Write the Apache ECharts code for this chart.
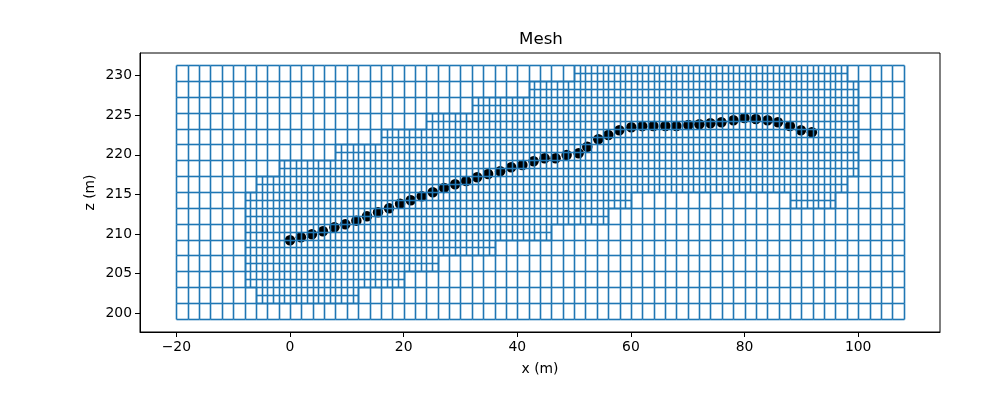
<!DOCTYPE html>
<html>
<head>
<meta charset="utf-8">
<style>html,body{margin:0;padding:0;background:#fff}#chart{width:1000px;height:400px}</style>
<script src="https://cdn.jsdelivr.net/npm/echarts@6/dist/echarts.min.js"></script>
</head>
<body>
<div id="chart"></div>
<script>
// receiver locations
var pointX = [0, 1.92, 3.86, 5.8, 7.81, 9.74, 11.68, 13.55, 15.49, 17.43, 19.37, 21.25, 23.19, 25.13, 27.12, 29.06,
    31, 32.93, 34.87, 36.99, 38.93, 40.9, 42.87, 44.81, 46.75, 48.69, 50.8, 52.32, 54.26, 56.02, 57.96, 60.07,
    62, 63.95, 66.06, 68, 70.11, 72.05, 73.99, 75.93, 78.04, 79.98, 81.99, 84.04, 85.87, 87.98, 89.92, 91.85];
var pointZ = [209.23, 209.61, 209.99, 210.37, 210.87, 211.25, 211.7, 212.26, 212.76, 213.27, 213.83, 214.27, 214.78, 215.28, 215.83, 216.29,
    216.71, 217.18, 217.59, 217.93, 218.44, 218.73, 219.19, 219.57, 219.57, 219.99, 220.2, 221.03, 221.97, 222.51, 223.1, 223.48,
    223.62, 223.64, 223.64, 223.64, 223.77, 223.86, 223.98, 224.11, 224.36, 224.65, 224.53, 224.36, 224.11, 223.64, 223.1, 222.85];

// mesh outline and cell sizes
var meshX = [-20, 108];
var meshZ = [199.25, 231.25];
var coarseSize = 2;
var fineSize = 1;

// refined x range for each coarse row, bottom row first (null = no refinement)
var fineFrom = [null, -6, -8, -8, -8, -8, -8, -8, -6, -2, 8, 16, 24, 32, 42, 50];
var fineTo = [null, 12, 20, 26, 36, 46, 56, 60, 98, 100, 100, 100, 100, 100, 100, 98];
// second refined patch in row 7
var patchRow = 7;
var patchX = [88, 96];

var xTicks = [-20, 0, 20, 40, 60, 80, 100];
var zTicks = [200, 205, 210, 215, 220, 225, 230];
var xLimits = [-26.4, 114.4];
var zLimits = [197.65, 232.85];

function isFine(row, x) {
    if (fineFrom[row] !== null && x >= fineFrom[row] && x < fineTo[row]) return true;
    return row === patchRow && x >= patchX[0] && x < patchX[1];
}

// collect each cell edge once, so shared edges are not drawn twice
function buildEdges() {
    var edges = {};
    function addCell(x0, z0, size) {
        var x1 = x0 + size, z1 = z0 + size;
        edges[[x0, z0, x1, z0]] = [x0, z0, x1, z0];
        edges[[x0, z1, x1, z1]] = [x0, z1, x1, z1];
        edges[[x0, z0, x0, z1]] = [x0, z0, x0, z1];
        edges[[x1, z0, x1, z1]] = [x1, z0, x1, z1];
    }
    var rows = (meshZ[1] - meshZ[0]) / coarseSize;
    for (var r = 0; r < rows; r++) {
        var z = meshZ[0] + r * coarseSize;
        for (var x = meshX[0]; x < meshX[1]; x += coarseSize) {
            if (isFine(r, x)) {
                for (var i = 0; i < coarseSize; i++) {
                    for (var j = 0; j < coarseSize; j++) {
                        addCell(x + i * fineSize, z + j * fineSize, fineSize);
                    }
                }
            } else {
                addCell(x, z, coarseSize);
            }
        }
    }
    return Object.keys(edges).map(function (k) { return edges[k]; });
}

// put lines on whole pixels so they stay crisp
function snapX(v) {
    return Math.floor(v + 0.5) + 0.5;
}
function snapY(v) {
    return Math.round(v - 0.5) + 0.5;
}

var points = pointX.map(function (x, i) { return [x, pointZ[i]]; });
var font = 'DejaVu Sans';

var chart = echarts.init(document.getElementById('chart'), null, {renderer: 'canvas'});
chart.setOption({
    animation: false,
    backgroundColor: '#fff',
    title: {
        text: 'Mesh',
        left: 536,
        top: 26,
        textAlign: 'center',
        textStyle: {fontFamily: font, fontSize: 16.67, fontWeight: 'normal', color: '#000'}
    },
    grid: {left: 140, top: 53, width: 800, height: 279, show: true, borderColor: '#000', borderWidth: 1, backgroundColor: 'transparent'},
    xAxis: {
        type: 'value',
        min: xLimits[0],
        max: xLimits[1],
        name: 'x (m)',
        nameLocation: 'middle',
        nameGap: 30,
        nameMoveOverlap: false,
        nameTextStyle: {fontFamily: font, fontSize: 13.9, color: '#000'},
        splitLine: {show: false},
        axisLine: {show: true, onZero: false, lineStyle: {color: '#000', width: 1}},
        axisTick: {show: true, length: 5, customValues: xTicks, lineStyle: {color: '#000', width: 1}},
        axisLabel: {customValues: xTicks, margin: 8, fontFamily: font, fontSize: 13.9, color: '#000',
            formatter: function (v) { return String(v).replace('-', '\u2212'); }}
    },
    yAxis: {
        type: 'value',
        min: zLimits[0],
        max: zLimits[1],
        name: 'z (m)',
        nameLocation: 'middle',
        nameGap: 43,
        nameMoveOverlap: false,
        nameTextStyle: {fontFamily: font, fontSize: 13.9, color: '#000'},
        splitLine: {show: false},
        axisLine: {show: true, onZero: false, lineStyle: {color: '#000', width: 1}},
        axisTick: {show: true, length: 5, customValues: zTicks, lineStyle: {color: '#000', width: 1}},
        axisLabel: {customValues: zTicks, margin: 8, fontFamily: font, fontSize: 13.9, color: '#000'}
    },
    series: [
        {
            type: 'scatter',
            data: points,
            symbol: 'circle',
            symbolSize: 10.5,
            itemStyle: {color: '#000', opacity: 1},
            z: 2,
            silent: true
        },
        {
            type: 'custom',
            data: buildEdges(),
            z: 3,
            silent: true,
            progressive: 0,
            clip: false,
            encode: {x: [0, 2], y: [1, 3]},
            renderItem: function (params, api) {
                var a = api.coord([api.value(0), api.value(1)]);
                var b = api.coord([api.value(2), api.value(3)]);
                return {
                    type: 'line',
                    shape: {x1: snapX(a[0]), y1: snapY(a[1]), x2: snapX(b[0]), y2: snapY(b[1])},
                    style: {stroke: '#1f77b4', lineWidth: 1.6, lineCap: 'butt', fill: null}
                };
            }
        }
    ]
});
</script>
</body>
</html>
